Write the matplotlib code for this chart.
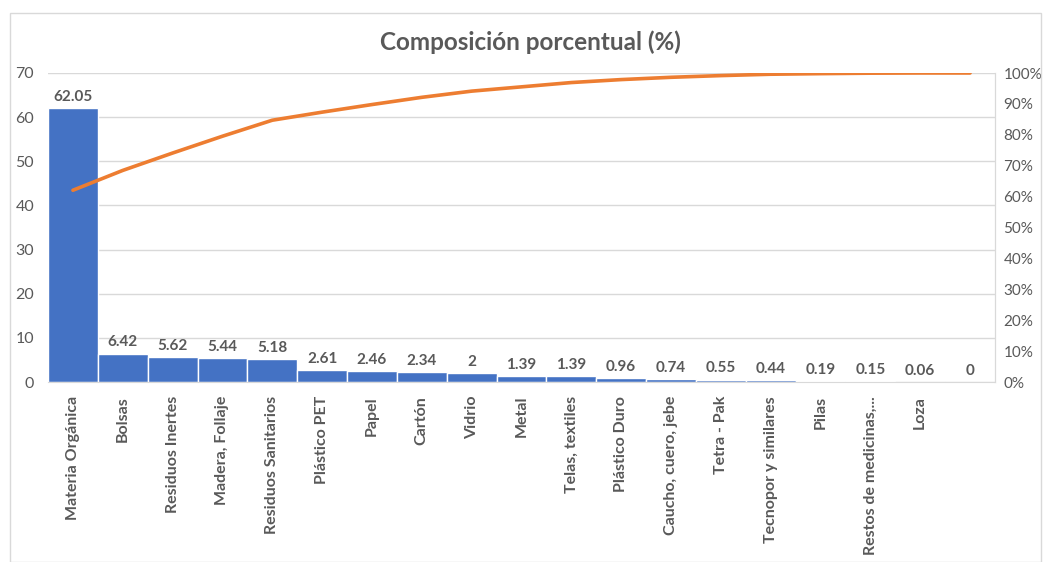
import matplotlib
matplotlib.use("Agg")
import matplotlib.pyplot as plt
import numpy as np
from matplotlib.ticker import PercentFormatter, MultipleLocator
from matplotlib.patches import Rectangle

plt.rcParams['font.family'] = ['Lato', 'DejaVu Sans']

categories = ["Materia Orgánica", "Bolsas", "Residuos Inertes", "Madera, Follaje",
              "Residuos Sanitarios", "Plástico PET", "Papel", "Cartón", "Vidrio",
              "Metal", "Telas, textiles", "Plástico Duro", "Caucho, cuero, jebe",
              "Tetra - Pak", "Tecnopor y similares", "Pilas", "Restos de medicinas,...",
              "Loza", ""]
values = [62.05, 6.42, 5.62, 5.44, 5.18, 2.61, 2.46, 2.34, 2, 1.39, 1.39, 0.96,
          0.74, 0.55, 0.44, 0.19, 0.15, 0.06, 0]
value_labels = ["62.05", "6.42", "5.62", "5.44", "5.18", "2.61", "2.46", "2.34", "2",
                "1.39", "1.39", "0.96", "0.74", "0.55", "0.44", "0.19", "0.15", "0.06", "0"]

bar_color = "#4472C4"
line_color = "#ED7D31"
text_color = "#595959"
grid_color = "#D9D9D9"

W, H = 1043, 562
fig = plt.figure(figsize=(W / 100, H / 100), dpi=100)
fig.patch.set_facecolor("white")

# outer chart border
fig.add_artist(Rectangle((10 / W, 0), (W - 12) / W, (H - 13) / H, transform=fig.transFigure,
                         fill=False, edgecolor="#D9D9D9", linewidth=1))

left, right, top, bottom = 48, 995, 73, 382
ax = fig.add_axes([left / W, 1 - bottom / H, (right - left) / W, (bottom - top) / H])

x = np.arange(len(categories))
ax.bar(x, values, width=1.0, color=bar_color, edgecolor="white", linewidth=1, zorder=2)
ax.set_xlim(-0.5, len(categories) - 0.5)
ax.set_ylim(0, 70)
ax.yaxis.set_major_locator(MultipleLocator(10))
ax.grid(axis="y", color=grid_color, linewidth=1, zorder=0)
ax.set_axisbelow(True)
for s in ["left", "top"]:
    ax.spines[s].set_visible(False)
ax.spines["bottom"].set_color(grid_color)
ax.spines["right"].set_color(grid_color)
ax.tick_params(axis="both", length=0)
ax.tick_params(axis="y", labelsize=11.5, labelcolor=text_color, pad=10)
ax.set_xticks(x)
ax.set_xticklabels(categories, rotation=90, fontsize=11.5, fontweight="bold",
                   color=text_color, va="top", ha="center")
ax.tick_params(axis="x", pad=10)

for xi, v, lab in zip(x, values, value_labels):
    ax.annotate(lab, (xi, v), xytext=(0, 3), textcoords="offset points",
                ha="center", va="bottom", fontsize=11, fontweight="bold",
                color=text_color, zorder=4)

cum = np.cumsum(values) / np.sum(values)
ax2 = ax.twinx()
ax2.plot(x, cum, color=line_color, linewidth=2.6, solid_capstyle="round", zorder=5)
ax2.set_ylim(0, 1.0)
ax2.yaxis.set_major_locator(MultipleLocator(0.1))
ax2.yaxis.set_major_formatter(PercentFormatter(1.0, decimals=0))
ax2.tick_params(axis="y", length=0, labelsize=11, labelcolor=text_color, pad=6)
for s in ["left", "top", "bottom"]:
    ax2.spines[s].set_visible(False)
ax2.spines["right"].set_color(grid_color)

fig.text((378 + 683) / 2 / W, 1 - 42 / H, "Composición porcentual (%)",
         ha="center", va="center", fontsize=17.5, fontweight="bold", color=text_color)

fig.savefig("out.png", dpi=100, facecolor="white")
